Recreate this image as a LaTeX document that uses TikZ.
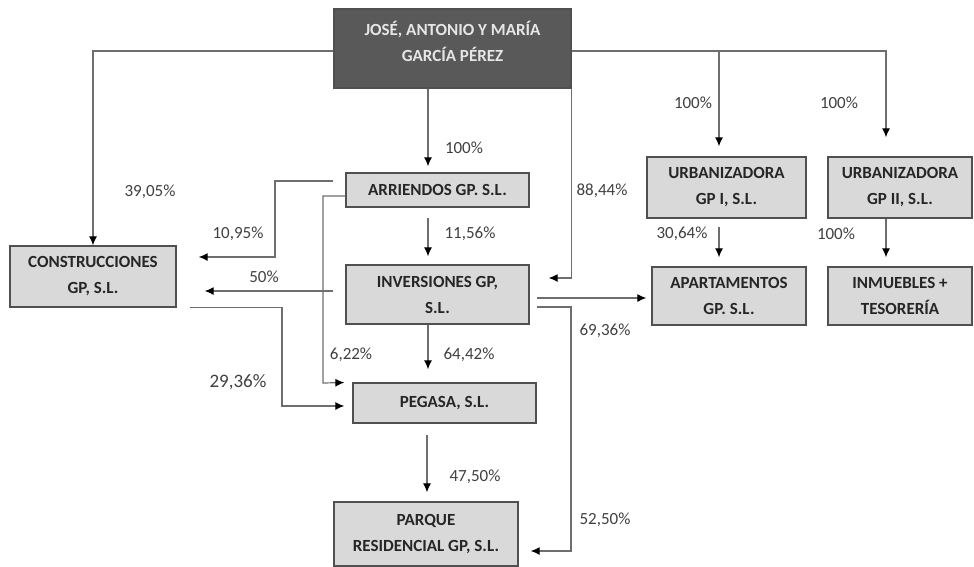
\documentclass[tikz,border=0pt]{standalone}
\usepackage{fontspec}
\setmainfont{Carlito}
\usetikzlibrary{arrows.meta}
\definecolor{boxfill}{HTML}{D9D9D9}
\definecolor{boxline}{HTML}{505050}
\definecolor{ownerfill}{HTML}{595959}
\definecolor{ownertext}{HTML}{E6E6E6}
\definecolor{linegray}{HTML}{6E6E6E}
\definecolor{pcttext}{HTML}{404040}

\begin{document}
\begin{tikzpicture}[x=1pt, y=-1pt,
 firm/.style args = {#1/#2}{%
      rectangle, draw=boxline, line width=1.3pt, fill=boxfill,
      minimum width=#1, minimum height=#2, inner sep=0pt,
      align=center, text=black!85,
      font=\bfseries\fontsize{17}{26}\selectfont},
 owner/.style args = {#1/#2}{%
      firm=#1/#2, fill=ownerfill, text=ownertext, text depth=14pt},
 link/.style = {draw=linegray, line width=1.2pt,
      -{Latex[length=9pt,width=8pt,black]}},
 pct/.style = {text=pcttext, inner sep=0pt,
      font=\fontsize{17}{20}\selectfont}
                    ]
\useasboundingbox (0,0) rectangle (974,566);
\node (fam) [owner=237/79] at (452.5, 48.5) {JOSÉ, ANTONIO Y MARÍA\\GARCÍA PÉREZ};
\node (arr) [firm=183/34]  at (437.5,190.0) {ARRIENDOS GP. S.L.};
\node (inv) [firm=183/59]  at (437.5,294.5) {INVERSIONES GP,\\S.L.};
\node (peg) [firm=183/40]  at (444.5,403.0) {PEGASA, S.L.};
\node (par) [firm=184/64]  at (426.0,534.0) {PARQUE\\RESIDENCIAL GP, S.L.};
\node (con) [firm=166/61]  at ( 93.0,276.5) {CONSTRUCCIONES\\GP, S.L.};
\node (ur1) [firm=159/61]  at (726.5,187.5) {URBANIZADORA\\GP I, S.L.};
\node (ur2) [firm=144/61]  at (900.0,187.5) {URBANIZADORA\\GP II, S.L.};
\node (apa) [firm=154/58]  at (729.0,296.0) {APARTAMENTOS\\GP. S.L.};
\node (inm) [firm=144/58]  at (900.0,296.0) {INMUEBLES +\\TESORERÍA};
\coordinate (fork) at (719,51);
 %
\draw[link] (fam.west |- 0,51) -| (con.north);
\draw[link, shorten >=6pt] (fam.south -| 428,0) -- (arr.north -| 428,0);
\draw[link, shorten >=19pt] (fam.east |- fork) -| (ur2.north -| 886,0);
\draw[link, shorten >=10pt] (fork) -- (ur1.north -| fork);
\draw[link, shorten >=19pt] (fam.south east) |- (inv.east |- 0,278);
\draw[link, shorten <=10pt, shorten >=8pt] (arr.south -| 428,0) -- (inv.north -| 428,0);
\draw[link, shorten <=12pt, shorten >=22pt] (arr.west |- 0,181) -| (275,257) -- (con.east |- 0,257);
\draw[link, shorten >=8pt] (arr.west |- 0,196) -| (323,383) -- (peg.north west);
\draw[link, shorten <=12pt, shorten >=28pt] (inv.west |- 0,291) -- (con.east |- 0,291);
\draw[link, shorten <=13pt, shorten >=8pt] (con.south east) -| (282,406) -- (peg.west |- 0,406);
\draw[link, shorten >=13pt] (inv.south -| 428,0) -- (peg.north -| 428,0);
\draw[link, shorten <=11pt, shorten >=9pt] (peg.south -| 427,0) -- (par.north -| 427,0);
\draw[link, shorten <=7pt, shorten >=5pt] (inv.east |- 0,298) -- (apa.west |- 0,298);
\draw[link, shorten <=7pt, shorten >=12pt] (inv.east |- 0,307) -| (571,551) -- (par.east |- 0,551);
\draw[link, shorten <=8pt, shorten >=9pt] (ur1.south -| 719,0) -- (apa.north -| 719,0);
\draw[link, shorten >=9pt] (ur2.south -| 886,0) -- (inm.north -| 886,0);
 %
\node (p1)  [pct] at (150,192) {39,05\%};
\node (p2)  [pct] at (464,148) {100\%};
\node (p3)  [pct] at (693,103) {100\%};
\node (p4)  [pct] at (839,103) {100\%};
\node (p5)  [pct] at (602,191) {88,44\%};
\node (p6)  [pct] at (470,234) {11,56\%};
\node (p7)  [pct] at (238,234) {10,95\%};
\node (p8)  [pct] at (351,355) {6,22\%};
\node (p9)  [pct] at (264,277) {50\%};
\node (p10) [pct, font=\fontsize{19}{22}\selectfont] at (238,382) {29,36\%};
\node (p11) [pct] at (469,355) {64,42\%};
\node (p12) [pct] at (605,331) {69,36\%};
\node (p13) [pct] at (605,520) {52,50\%};
\node (p14) [pct] at (475,477) {47,50\%};
\node (p15) [pct] at (682,234) {30,64\%};
\node (p16) [pct] at (836,234) {100\%};
\end{tikzpicture}
\end{document}
